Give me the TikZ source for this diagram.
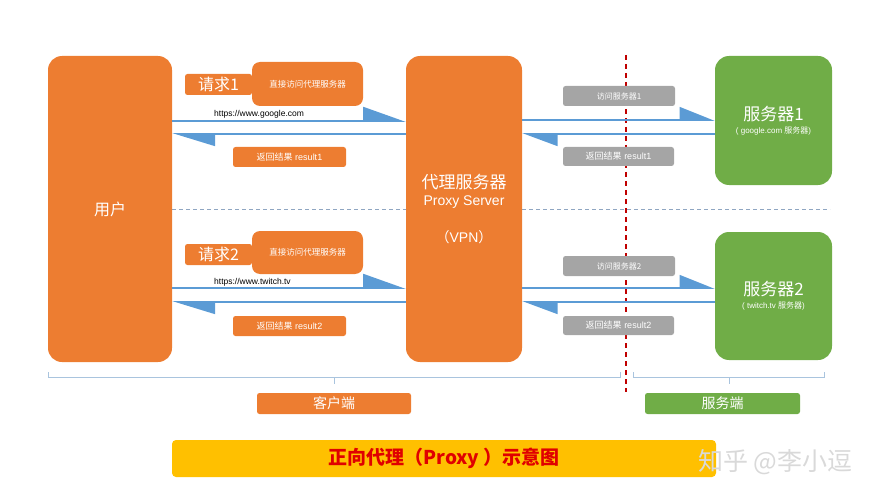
\documentclass[tikz,border=0pt]{standalone}
\usepackage{fontspec}
\setmainfont{Liberation Sans}
\newfontfamily\cjk{Noto Sans CJK SC}
\usetikzlibrary{arrows.meta,calc}
\definecolor{orangebox}{HTML}{ED7D31}
\definecolor{greenbox}{HTML}{70AD47}
\definecolor{graybox}{HTML}{A5A5A5}
\definecolor{flowblue}{HTML}{5B9BD5}
\definecolor{dashblue}{HTML}{8FA6C2}
\definecolor{bracketblue}{HTML}{A9C4DE}
\definecolor{splitred}{HTML}{C00000}
\definecolor{titlered}{HTML}{E00000}
\definecolor{titlebar}{HTML}{FFC000}
\definecolor{watermark}{HTML}{D9D9D9}
\tikzset{
  bigbox/.style={rounded corners=14pt, text=white, align=center, inner sep=0pt},
  tagbox/.style={rounded corners=2.5pt, text=white, inner sep=0pt},
  flowgo/.style={draw=flowblue, line width=1.8pt, -{Triangle[left, length=40pt, width=28pt]}},
  flowback/.style={draw=flowblue, line width=1.8pt, -{Triangle[left, length=40pt, width=24pt]}},
  flowgoR/.style={draw=flowblue, line width=1.8pt, -{Triangle[left, length=33pt, width=26pt]}},
  flowbackR/.style={draw=flowblue, line width=1.8pt, -{Triangle[left, length=33pt, width=24pt]}},
  bracket/.style={draw=bracketblue, line width=0.8pt}
}
\newcommand{\fs}[1]{\fontsize{#1}{#1}\selectfont}

\begin{document}
\begin{tikzpicture}[x=1pt, y=-1pt]
  \useasboundingbox (0,0) rectangle (889,500);
  % dividers
  \draw[splitred, line width=1.6pt, dash pattern=on 5pt off 4pt] (626,55) -- (626,392);
  \draw[dashblue, line width=1pt, dash pattern=on 4pt off 3pt] (172,209) -- (830,209);

  % main boxes
  \node[bigbox, fill=orangebox, minimum width=124pt, minimum height=306pt, font=\cjk\fs{16}] (user) at (110,209) {用户};
  \node[bigbox, fill=orangebox, minimum width=116pt, minimum height=306pt, font=\fs{14}] (proxy) at (464,209)
    {{\cjk\fs{17}代理服务器}\\[3pt]Proxy Server\\[22pt]{\cjk（}VPN{\cjk）}};
  \node[bigbox, fill=greenbox, minimum width=117pt, minimum height=129pt] (srv1) at (773.5,120.5)
    {{\cjk\fs{17}服务器1}\\[1pt]{\fs{8}( google.com {\cjk 服务器})}};
  \node[bigbox, fill=greenbox, minimum width=117pt, minimum height=128pt] (srv2) at (773.5,296)
    {{\cjk\fs{17}服务器2}\\[1pt]{\fs{8}( twitch.tv {\cjk 服务器})}};

  % request 1
  \node[tagbox, fill=orangebox, minimum width=67pt, minimum height=21pt, font=\cjk\fs{16}] (req1) at (218.5,84.5) {请求1};
  \node[tagbox, rounded corners=8pt, fill=orangebox, minimum width=111pt, minimum height=44pt, font=\cjk\fs{8.5}] (via1) at (307.5,84) {直接访问代理服务器};
  \node[font=\fs{8.5}, anchor=west, inner sep=0pt] (url1) at (214,114) {https://www.google.com};
  \draw[flowgo] (user.east |- 0,121) -- (proxy.west |- 0,121);
  \draw[flowback] (proxy.west |- 0,134) -- (user.east |- 0,134);
  \node[tagbox, fill=orangebox, minimum width=113pt, minimum height=20pt, font=\fs{9}] (res1) at (289.5,157) {{\cjk 返回结果} result1};
  \node[tagbox, fill=graybox, minimum width=112pt, minimum height=20pt, font=\cjk\fs{8}] (ask1) at (619,96) {访问服务器1};
  \draw[flowgoR] (proxy.east |- 0,120) -- (srv1.west |- 0,120);
  \draw[flowbackR] (srv1.west |- 0,134) -- (proxy.east |- 0,134);
  \node[tagbox, fill=graybox, minimum width=111pt, minimum height=19pt, font=\fs{9}] (back1) at (618.5,156.5) {{\cjk 返回结果} result1};

  % request 2
  \node[tagbox, fill=orangebox, minimum width=67pt, minimum height=21pt, font=\cjk\fs{16}] (req2) at (218.5,254.5) {请求2};
  \node[tagbox, rounded corners=8pt, fill=orangebox, minimum width=111pt, minimum height=43pt, font=\cjk\fs{8.5}] (via2) at (307.5,252.5) {直接访问代理服务器};
  \node[font=\fs{8.5}, anchor=west, inner sep=0pt] (url2) at (214,282) {https://www.twitch.tv};
  \draw[flowgo] (user.east |- 0,288) -- (proxy.west |- 0,288);
  \draw[flowback] (proxy.west |- 0,302) -- (user.east |- 0,302);
  \node[tagbox, fill=orangebox, minimum width=113pt, minimum height=20pt, font=\fs{9}] (res2) at (289.5,326) {{\cjk 返回结果} result2};
  \node[tagbox, fill=graybox, minimum width=112pt, minimum height=20pt, font=\cjk\fs{8}] (ask2) at (619,266) {访问服务器2};
  \draw[flowgoR] (proxy.east |- 0,288) -- (srv2.west |- 0,288);
  \draw[flowbackR] (srv2.west |- 0,302) -- (proxy.east |- 0,302);
  \node[tagbox, fill=graybox, minimum width=111pt, minimum height=19pt, font=\fs{9}] (back2) at (618.5,325.5) {{\cjk 返回结果} result2};

  % client / server side
  \draw[bracket] (48,372) -- (48,377) -- (620,377) -- (620,372) (334,377) -- (334,384);
  \draw[bracket] (633,372) -- (633,377) -- (824,377) -- (824,372) (729,377) -- (729,384);
  \node[tagbox, fill=orangebox, minimum width=154pt, minimum height=21pt, font=\cjk\fs{14}] (client) at (334,403.5) {客户端};
  \node[tagbox, fill=greenbox, minimum width=155pt, minimum height=21pt, font=\cjk\fs{14}] (server) at (722.5,403.5) {服务端};

  % title
  \node[tagbox, rounded corners=4pt, fill=titlebar, minimum width=544pt, minimum height=37pt, text=titlered, font=\cjk\bfseries\fs{19}] (title) at (444,458.5) {正向代理（Proxy ）示意图};
  \node[text=watermark, font=\cjk\fs{25}, anchor=west, inner sep=0pt] (mark) at (698,462) {知乎 @李小逗};
\end{tikzpicture}
\end{document}
